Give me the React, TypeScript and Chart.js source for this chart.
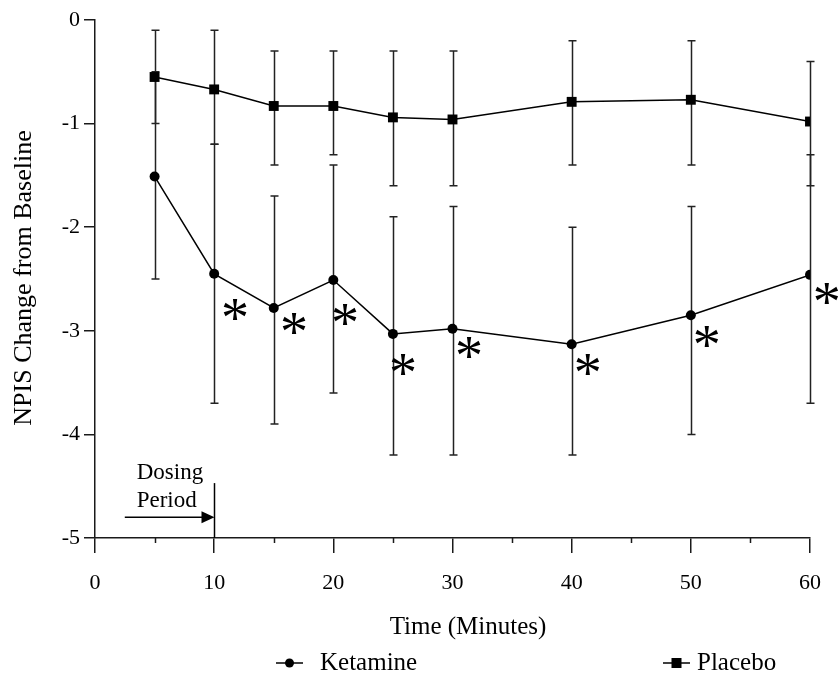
import React, { useEffect, useRef } from "react";
import { Chart, registerables } from "chart.js";

Chart.register(...registerables);

// ---- data ----
const times = [5, 10, 15, 20, 25, 30, 40, 50, 60];
const ketamineMean = [-1.51, -2.45, -2.78, -2.51, -3.03, -2.98, -3.13, -2.85, -2.46];
const ketamineUpper = [-0.5, -1.2, -1.7, -1.4, -1.9, -1.8, -2.0, -1.8, -1.3];
const ketamineLower = [-2.5, -3.7, -3.9, -3.6, -4.2, -4.2, -4.2, -4.0, -3.7];
const placeboMean = [-0.55, -0.67, -0.83, -0.83, -0.94, -0.96, -0.79, -0.77, -0.98];
const placeboUpper = [-0.1, -0.1, -0.3, -0.3, -0.3, -0.3, -0.2, -0.2, -0.4];
const placeboLower = [-1.0, -1.2, -1.4, -1.3, -1.6, -1.6, -1.4, -1.4, -1.6];
const xMajorTicks = [0, 10, 20, 30, 40, 50, 60];
const xMinorTicks = [5, 15, 25, 35, 45, 55];
const yTicks = [0, -1, -2, -3, -4, -5];
// significance markers (data coordinates)
const asteriskX = [11.74, 16.69, 20.97, 25.84, 31.38, 41.36, 51.34, 61.41];
const asteriskY = [-2.8, -2.93, -2.85, -3.33, -3.17, -3.33, -3.06, -2.64];
const seriesLabels = ["Ketamine", "Placebo"];
const xTitle = "Time (Minutes)";
const yTitle = "NPIS Change from Baseline";
const dosingLines = ["Dosing", "Period"];
const dosingStart = 2.5;
const dosingEnd = 10;

const FONT = '"Liberation Serif", "Times New Roman", serif';
const INK = "#000";
const AXIS = "#1a1a1a";

const overlayPlugin = {
  id: "overlay",
  beforeDatasetsDraw(chart: any) {
    const { ctx, scales } = chart;
    const xs = scales.x;
    const ys = scales.y;
    ctx.save();
    ctx.strokeStyle = "#222";
    ctx.lineWidth = 1.5;
    const cap = 4;
    const drawBars = (lo: number[], hi: number[]) => {
      times.forEach((t, i) => {
        const px = Math.round(xs.getPixelForValue(t)) + 0.5;
        const y1 = ys.getPixelForValue(hi[i]);
        const y2 = ys.getPixelForValue(lo[i]);
        ctx.beginPath();
        ctx.moveTo(px, y1);
        ctx.lineTo(px, y2);
        ctx.moveTo(px - cap, y1);
        ctx.lineTo(px + cap, y1);
        ctx.moveTo(px - cap, y2);
        ctx.lineTo(px + cap, y2);
        ctx.stroke();
      });
    };
    drawBars(ketamineLower, ketamineUpper);
    drawBars(placeboLower, placeboUpper);
    ctx.restore();
  },
  afterDraw(chart: any) {
    const { ctx, scales, chartArea } = chart;
    const xs = scales.x;
    const ys = scales.y;
    ctx.save();
    // minor x ticks
    ctx.strokeStyle = AXIS;
    ctx.lineWidth = 1.5;
    xMinorTicks.forEach((t) => {
      const px = Math.round(xs.getPixelForValue(t)) + 0.5;
      ctx.beginPath();
      ctx.moveTo(px, chartArea.bottom);
      ctx.lineTo(px, chartArea.bottom + 5);
      ctx.stroke();
    });

    // asterisks
    ctx.fillStyle = INK;
    ctx.font = `56px ${FONT}`;
    ctx.textAlign = "left";
    ctx.textBaseline = "alphabetic";
    const m = ctx.measureText("*");
    asteriskX.forEach((ax, i) => {
      const cx = xs.getPixelForValue(ax);
      const cy = ys.getPixelForValue(asteriskY[i]);
      const dx = (m.actualBoundingBoxRight - m.actualBoundingBoxLeft) / 2;
      const dy = (m.actualBoundingBoxAscent - m.actualBoundingBoxDescent) / 2;
      ctx.fillText("*", cx - dx, cy + dy);
    });

    // dosing period annotation
    const xEnd = Math.round(xs.getPixelForValue(dosingEnd)) + 0.5;
    const xStart = xs.getPixelForValue(dosingStart);
    const yArrow = ys.getPixelForValue(-4.8);
    ctx.strokeStyle = INK;
    ctx.lineWidth = 1.5;
    ctx.beginPath();
    ctx.moveTo(xEnd, ys.getPixelForValue(-4.47));
    ctx.lineTo(xEnd, chartArea.bottom);
    ctx.stroke();
    ctx.beginPath();
    ctx.moveTo(xStart, yArrow);
    ctx.lineTo(xEnd - 12, yArrow);
    ctx.stroke();
    ctx.beginPath();
    ctx.moveTo(xEnd, yArrow);
    ctx.lineTo(xEnd - 13, yArrow - 6);
    ctx.lineTo(xEnd - 13, yArrow + 6);
    ctx.closePath();
    ctx.fill();
    ctx.font = `23px ${FONT}`;
    ctx.textBaseline = "middle";
    ctx.textAlign = "left";
    ctx.fillText(dosingLines[0], xs.getPixelForValue(3.5), ys.getPixelForValue(-4.37));
    ctx.fillText(dosingLines[1], xs.getPixelForValue(3.5), ys.getPixelForValue(-4.64));

    // axis titles
    ctx.font = `25px ${FONT}`;
    ctx.textAlign = "center";
    ctx.textBaseline = "middle";
    ctx.fillText(xTitle, 468, 627);
    ctx.save();
    ctx.font = `26px ${FONT}`;
    ctx.translate(24, 278);
    ctx.rotate(-Math.PI / 2);
    ctx.fillText(yTitle, 0, 0);
    ctx.restore();

    // legend
    const ly = 663;
    ctx.font = `25px ${FONT}`;
    ctx.strokeStyle = INK;
    ctx.lineWidth = 1.5;
    ctx.beginPath();
    ctx.moveTo(276, ly);
    ctx.lineTo(303, ly);
    ctx.stroke();
    ctx.beginPath();
    ctx.arc(289.5, ly, 4.5, 0, Math.PI * 2);
    ctx.fill();
    ctx.beginPath();
    ctx.moveTo(663, ly);
    ctx.lineTo(690, ly);
    ctx.stroke();
    ctx.fillRect(671.5, ly - 5, 10, 10);
    ctx.textAlign = "left";
    ctx.fillText(seriesLabels[0], 320, ly);
    ctx.fillText(seriesLabels[1], 697, ly);
    ctx.restore();
  },
};

export default function App() {
  const ref = useRef<HTMLCanvasElement | null>(null);
  useEffect(() => {
    document.body.style.margin = "0";
    const canvas = ref.current;
    if (!canvas) return;
    const chart = new Chart(canvas, {
      type: "line",
      data: {
        datasets: [
          {
            label: seriesLabels[0],
            data: times.map((t, i) => ({ x: t, y: ketamineMean[i] })),
            borderColor: INK,
            backgroundColor: INK,
            borderWidth: 1.5,
            pointStyle: "circle",
            pointRadius: 5,
            pointBackgroundColor: INK,
            pointBorderWidth: 0,
            tension: 0,
          },
          {
            label: seriesLabels[1],
            data: times.map((t, i) => ({ x: t, y: placeboMean[i] })),
            borderColor: INK,
            backgroundColor: INK,
            borderWidth: 1.5,
            pointStyle: "rect",
            pointRadius: 7,
            pointBackgroundColor: INK,
            pointBorderWidth: 0,
            tension: 0,
          },
        ],
      },
      options: {
        responsive: false,
        animation: false,
        events: [],
        layout: { padding: { top: 20, right: 28, left: 0, bottom: 0 } },
        plugins: {
          legend: { display: false },
          tooltip: { enabled: false },
        },
        scales: {
          x: {
            type: "linear",
            min: 0,
            max: 60,
            afterFit: (s: any) => {
              s.height = 148;
            },
            afterBuildTicks: (s: any) => {
              s.ticks = xMajorTicks.map((v) => ({ value: v }));
            },
            ticks: {
              font: { family: FONT, size: 22 },
              color: INK,
              padding: 17,
              maxRotation: 0,
              callback: (v: any) => String(v),
            },
            grid: {
              drawOnChartArea: false,
              drawTicks: true,
              tickLength: 15,
              color: AXIS,
              lineWidth: 1.5,
            },
            border: { display: true, color: AXIS, width: 1.5 },
          },
          y: {
            type: "linear",
            min: -5,
            max: 0,
            afterFit: (s: any) => {
              s.width = 95;
            },
            afterBuildTicks: (s: any) => {
              s.ticks = yTicks.map((v) => ({ value: v }));
            },
            ticks: {
              font: { family: FONT, size: 22 },
              color: INK,
              padding: 4,
              callback: (v: any) => String(v),
            },
            grid: {
              drawOnChartArea: false,
              drawTicks: true,
              tickLength: 11,
              color: AXIS,
              lineWidth: 1.5,
            },
            border: { display: true, color: AXIS, width: 1.5 },
          },
        },
      },
      plugins: [overlayPlugin],
    } as any);
    return () => chart.destroy();
  }, []);
  return (
    <div style={{ width: 838, height: 686, background: "#fff" }}>
      <canvas ref={ref} width={838} height={686} style={{ display: "block" }} />
    </div>
  );
}
